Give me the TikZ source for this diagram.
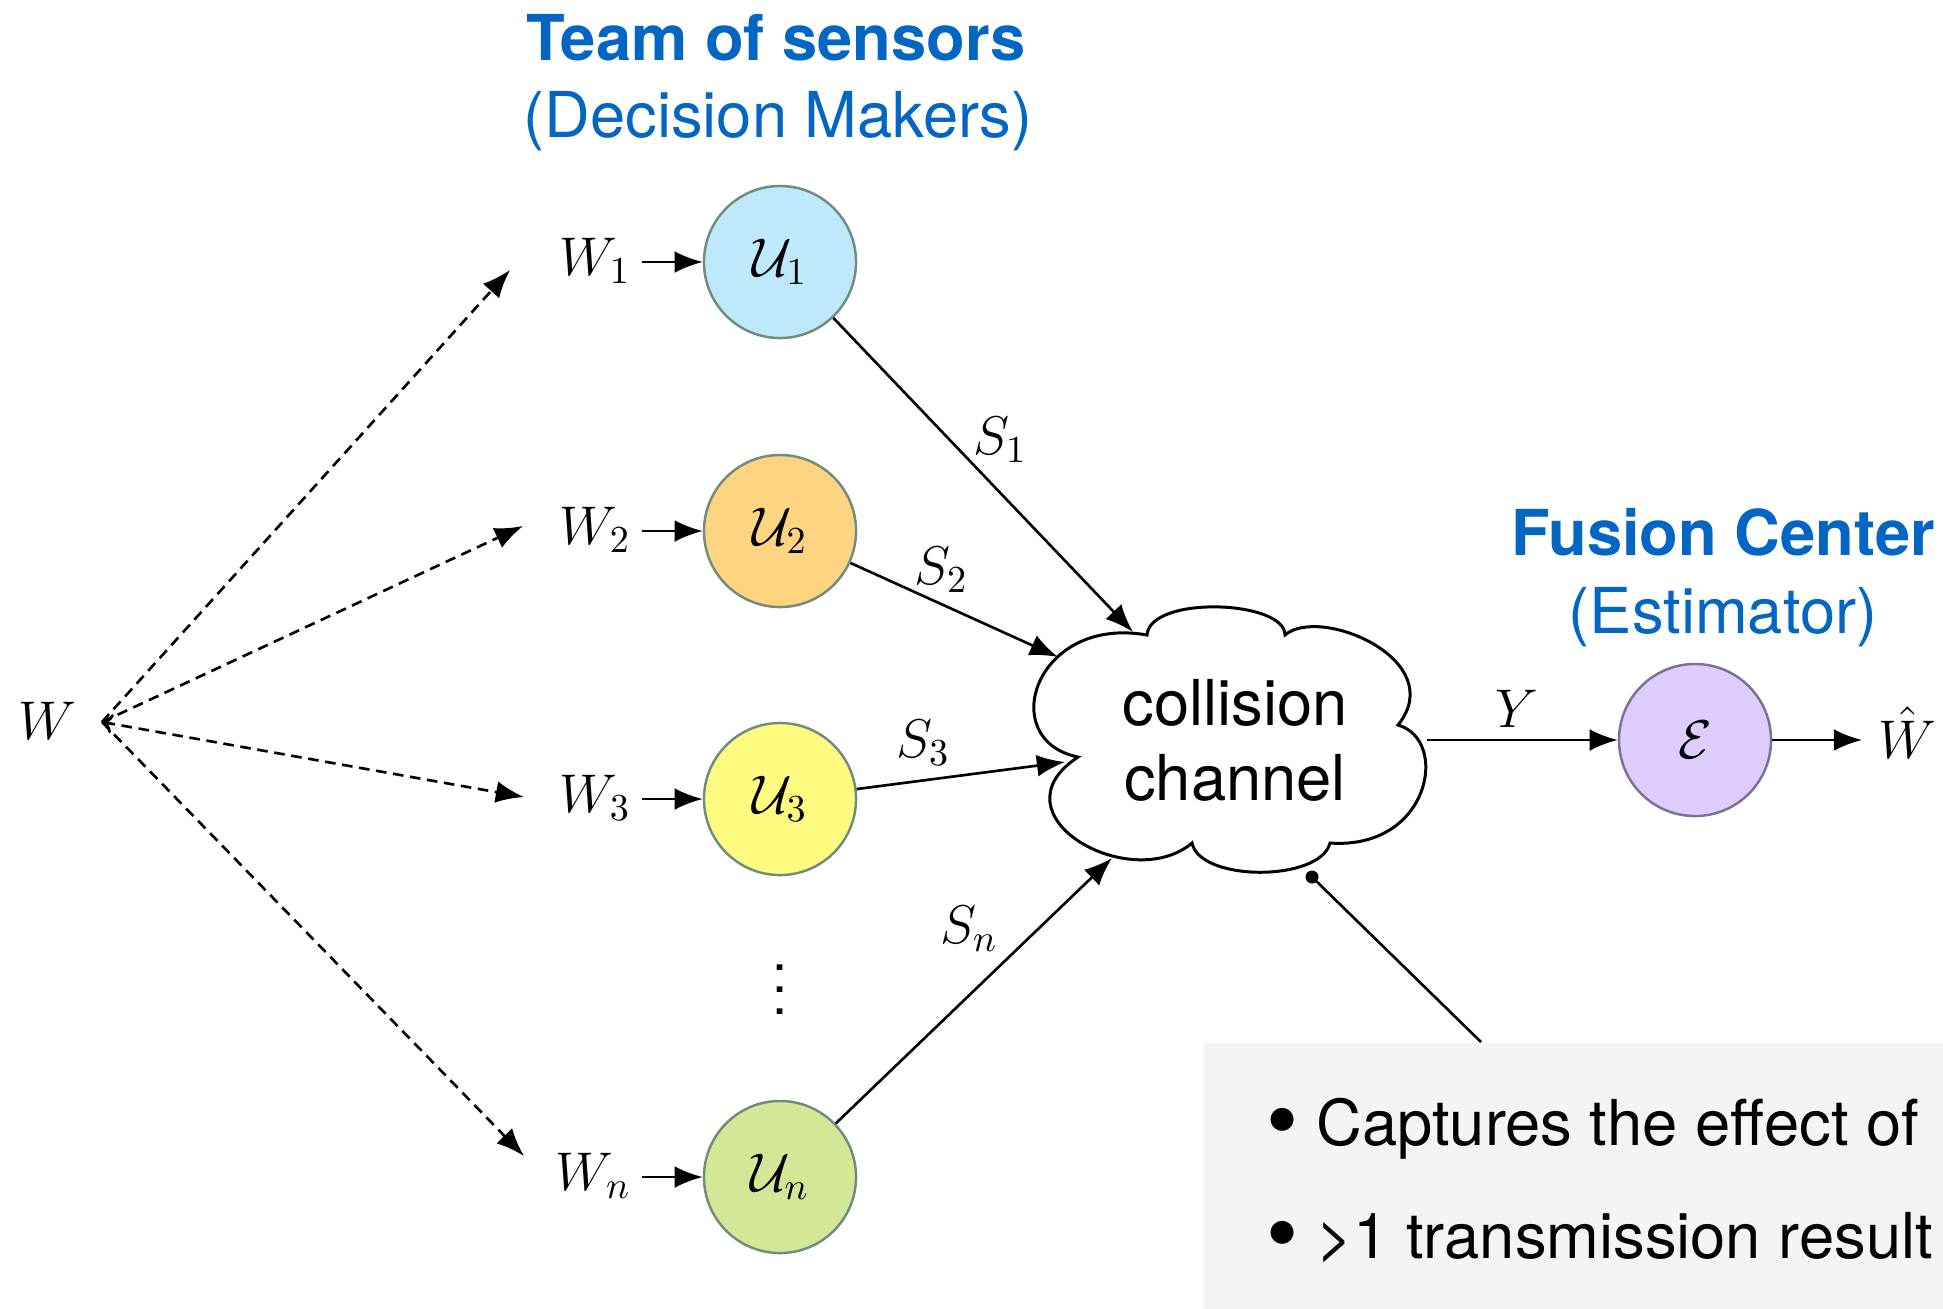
\documentclass[tikz,border=0pt]{standalone}
\usepackage{fix-cm}
\usepackage{fontspec}
\setmainfont{TeX Gyre Heros}
\usetikzlibrary{arrows.meta}

\definecolor{titleblue}{HTML}{0366C3}
\definecolor{uonefill}{HTML}{BEE8FB}
\definecolor{utwofill}{HTML}{FED481}
\definecolor{uthreefill}{HTML}{FEFB80}
\definecolor{unfill}{HTML}{D3E797}
\definecolor{efill}{HTML}{DCCDFC}
\definecolor{nodeedge}{HTML}{6F8C7C}
\definecolor{eedge}{HTML}{7E7093}
\definecolor{notefill}{HTML}{F4F4F4}

\newcommand{\bigbullet}{\raisebox{-0.1em}{\scalebox{1.45}{\textbullet}}}

\tikzset{
  edge/.style={line width=0.75pt, -{Latex[length=8pt,width=6.2pt]}},
  dashedge/.style={edge, dash pattern=on 3pt off 1.9pt},
  agent/.style={circle, draw=nodeedge, line width=0.7pt, minimum size=1.52cm,
    inner sep=0pt, font=\fontsize{15.5}{18}\selectfont},
  mathlbl/.style={inner sep=0pt, font=\fontsize{15.5}{18}\selectfont},
  wlbl/.style={mathlbl, inner xsep=3pt, anchor=base east},
  title/.style={font=\fontsize{18}{21}\selectfont\bfseries, text=titleblue},
  subtitle/.style={font=\fontsize{18}{21}\selectfont, text=titleblue},
  notetext/.style={font=\fontsize{18}{21}\selectfont, anchor=base west, inner sep=0pt},
  cloudline/.style={line width=0.85pt, fill=white},
}

\begin{document}
\begin{tikzpicture}[x=0.01cm, y=0.01cm]
  \clip (0,0) rectangle (1943,-1308);
  \useasboundingbox (0,0) rectangle (1943,-1308);

  % headings
  \node[title, anchor=base] (team) at (776,-60) {Team of sensors};
  \node[subtitle, anchor=base] (dm) at (778,-137) {(Decision Makers)};
  \node[title, anchor=base] (fc) at (1723,-555) {Fusion Center};
  \node[subtitle, anchor=base] (est) at (1723,-633) {(Estimator)};

  % source and its dashed fan-out
  \node[mathlbl] (W) at (47,-721) {$W$};
  \coordinate (src) at (102,-722);
  \coordinate (d1) at (510,-270);
  \coordinate (d2) at (523,-526);
  \coordinate (d3) at (524,-797);
  \coordinate (d4) at (524,-1156);
  \draw[dashedge] (src) -- (d1);
  \draw[dashedge] (src) -- (d2);
  \draw[dashedge, {To[length=3pt,width=5.5pt]}-{Latex[length=8pt,width=6.2pt]}] (src) -- (d3);
  \draw[dashedge] (src) -- (d4);

  % decision makers
  \node[agent, fill=uonefill] (U1) at (780,-262) {$\mathcal{U}_1$};
  \node[agent, fill=utwofill] (U2) at (780,-531) {$\mathcal{U}_2$};
  \node[agent, fill=uthreefill] (U3) at (780,-799) {$\mathcal{U}_3$};
  \node[agent, fill=unfill] (Un) at (780,-1177) {$\mathcal{U}_n$};
  \node[anchor=base, inner sep=0pt, scale=1.55] (dots) at (780,-1014) {$\vdots$};

  % local observations
  \node[wlbl] (W1) at ([shift={(-138,-13)}]U1.center) {$W_1$};
  \node[wlbl] (W2) at ([shift={(-138,-13)}]U2.center) {$W_2$};
  \node[wlbl] (W3) at ([shift={(-138,-13)}]U3.center) {$W_3$};
  \node[wlbl] (Wn) at ([shift={(-138,-13)}]Un.center) {$W_n$};
  \foreach \i in {1,2,3,n}
    \draw[edge] (W\i.east |- U\i.west) -- (U\i.west);

  % collision channel
  \draw[cloudline] (1078,-757)
    .. controls (995,-740) and (1035,-615) .. (1147,-635)
    .. controls (1150,-595) and (1285,-600) .. (1285,-635)
    .. controls (1320,-605) and (1450,-660) .. (1398,-725)
    .. controls (1450,-740) and (1430,-850) .. (1330,-843)
    .. controls (1320,-882) and (1200,-882) .. (1192,-843)
    .. controls (1130,-895) and (990,-815) .. cycle;
  \node[font=\fontsize{18}{21.3}\selectfont, align=center, inner sep=0pt] (chan)
    at (1235,-740) {collision\\channel};
  \coordinate (c1) at (1133,-632);
  \coordinate (c2) at (1058,-657);
  \coordinate (c3) at (1065,-762);
  \coordinate (c4) at (1112,-858);
  \coordinate (cy) at (1427,-740);

  \draw[edge] (U1) -- (c1);
  \draw[edge] (U2) -- (c2);
  \draw[edge] (U3) -- (c3);
  \draw[edge] (Un) -- (c4);
  \node[mathlbl] (S1) at (1000,-440) {$S_1$};
  \node[mathlbl] (S2) at (941,-570) {$S_2$};
  \node[mathlbl] (S3) at (923,-743) {$S_3$};
  \node[mathlbl] (Sn) at (969,-929) {$S_n$};

  % estimator
  \node[agent, draw=eedge, fill=efill] (E) at (1695,-740) {$\mathcal{E}$};
  \draw[edge] (cy) -- (E);
  \node[mathlbl, anchor=base] (Y) at (1517,-727) {$Y$};
  \node[mathlbl, inner xsep=4.5pt, anchor=base west] (What) at (1862,-758) {$\hat{W}$};
  \draw[edge] (E.east) -- (What.west |- E.east);

  % note box
  \node[fill=notefill, anchor=north west, minimum width=8cm, minimum height=3cm,
    inner sep=0pt] (note) at (1203,-1042) {};
  \node[notetext] (line1) at (1266,-1145) {\bigbullet\ Captures the effect of};
  \node[notetext] (line2) at (1266,-1258) {\bigbullet\ >1 transmission result};
  \node[circle, fill, inner sep=0pt, minimum size=0.13cm] (dot) at (1312,-877) {};
  \coordinate (ctail) at (1481,-1042);
  \draw[line width=0.75pt] (dot.center) -- (ctail);
\end{tikzpicture}
\end{document}
